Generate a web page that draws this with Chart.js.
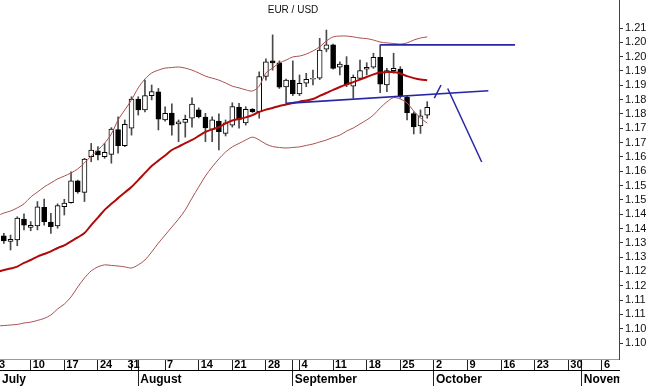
<!DOCTYPE html>
<html>
<head>
<meta charset="utf-8">
<script src="https://cdn.jsdelivr.net/npm/chart.js@4.4.1/dist/chart.umd.min.js"></script>
<style>
html,body{margin:0;padding:0;background:#fff;}
canvas{display:block;}
</style>
</head>
<body>
<canvas id="c" width="650" height="386"></canvas>
<script>
// ---------------- data (EUR/USD daily, 2017) ----------------
const chartTitle = 'EUR / USD';

// trading days; position on the x axis = index in this list (Jul 3 = 0)
const tradingDays = [
 'Jul 3','Jul 4','Jul 5','Jul 6','Jul 7','Jul 10','Jul 11','Jul 12','Jul 13','Jul 14',
 'Jul 17','Jul 18','Jul 19','Jul 20','Jul 21','Jul 24','Jul 25','Jul 26','Jul 27','Jul 28',
 'Jul 31','Aug 1','Aug 2','Aug 3','Aug 4','Aug 7','Aug 8','Aug 9','Aug 10','Aug 11',
 'Aug 14','Aug 15','Aug 16','Aug 17','Aug 18','Aug 21','Aug 22','Aug 23','Aug 24','Aug 25',
 'Aug 28','Aug 29','Aug 30','Aug 31','Sep 1','Sep 4','Sep 5','Sep 6','Sep 7','Sep 8',
 'Sep 11','Sep 12','Sep 13','Sep 14','Sep 15','Sep 18','Sep 19','Sep 20','Sep 21','Sep 22',
 'Sep 25','Sep 26','Sep 27','Sep 28','Sep 29'
];

const openP = [null,
 1.1374,1.1355,1.1360,1.1433,1.1404,1.1409,1.1474,1.1422,1.1409,1.1476,
 1.1490,1.1566,1.1526,1.1651,1.1671,1.1651,1.1659,1.1745,1.1689,1.1750,
 1.1852,1.1814,1.1864,1.1877,1.1779,1.1803,1.1765,1.1770,1.1785,1.1814,
 1.1789,1.1746,1.1775,1.1732,1.1761,1.1824,1.1769,1.1816,1.1808,1.1931,
 1.1985,1.1978,1.1894,1.1918,1.1870,1.1907,1.1921,1.1925,1.2026,1.2041,
 1.1963,1.1971,1.1897,1.1924,1.1956,1.1963,1.1998,1.1901,1.1951,1.1957,
 1.1858,1.1801,1.1758,1.1796];
const highP = [null,
 1.1383,1.1377,1.1441,1.1451,1.1424,1.1494,1.1503,1.1453,1.1486,1.1502,
 1.1598,1.1569,1.1645,1.1697,1.1686,1.1697,1.1752,1.1790,1.1779,1.1860,
 1.1860,1.1918,1.1901,1.1889,1.1825,1.1835,1.1779,1.1796,1.1856,1.1821,
 1.1802,1.1790,1.1800,1.1779,1.1839,1.1837,1.1825,1.1819,1.1947,1.1992,
 1.2076,1.1985,1.1922,1.1985,1.1936,1.1942,1.1953,1.2064,1.2093,1.2044,
 1.1982,1.2000,1.1936,1.1988,1.1979,1.2012,1.2041,1.1959,1.2012,1.1965,
 1.1863,1.1807,1.1814,1.1843];
const lowP = [null,
 1.1348,1.1325,1.1340,1.1395,1.1392,1.1395,1.1412,1.1383,1.1401,1.1447,
 1.1488,1.1523,1.1494,1.1633,1.1639,1.1645,1.1628,1.1663,1.1686,1.1726,
 1.1796,1.1807,1.1849,1.1744,1.1775,1.1726,1.1703,1.1719,1.1754,1.1786,
 1.1703,1.1703,1.1674,1.1723,1.1754,1.1750,1.1761,1.1805,1.1785,1.1918,
 1.1953,1.1889,1.1837,1.1864,1.1864,1.1895,1.1901,1.1920,1.2017,1.1956,
 1.1936,1.1895,1.1855,1.1921,1.1936,1.1959,1.1874,1.1878,1.1942,1.1855,
 1.1779,1.1730,1.1732,1.1785];
const closeP = [null,
 1.1357,1.1362,1.1436,1.1412,1.1411,1.1476,1.1424,1.1406,1.1480,1.1489,
 1.1566,1.1528,1.1642,1.1674,1.1657,1.1666,1.1747,1.1689,1.1764,1.1852,
 1.1814,1.1864,1.1878,1.1782,1.1802,1.1761,1.1772,1.1781,1.1834,1.1790,
 1.1751,1.1779,1.1738,1.1769,1.1826,1.1781,1.1816,1.1808,1.1930,1.1982,
 1.1978,1.1893,1.1918,1.1870,1.1907,1.1921,1.1924,1.2023,1.2041,1.1959,
 1.1974,1.1901,1.1928,1.1951,1.1963,1.1998,1.1904,1.1951,1.1959,1.1863,
 1.1804,1.1755,1.1793,1.1823];

// Bollinger bands, one value per trading day
const upperBand = [
 1.1444,1.1454,1.1461,1.1472,1.1486,1.1510,1.1527,1.1545,1.1559,1.1573,
 1.1583,1.1594,1.1608,1.1629,1.1653,1.1674,1.1698,1.1730,1.1779,1.1814,
 1.1849,1.1891,1.1922,1.1943,1.1953,1.1960,1.1962,1.1964,1.1960,1.1953,
 1.1943,1.1932,1.1925,1.1918,1.1908,1.1897,1.1891,1.1884,1.1880,1.1897,
 1.1943,1.1960,1.1978,1.1988,1.1999,1.2002,1.2009,1.2020,1.2034,1.2055,
 1.2069,1.2072,1.2072,1.2069,1.2065,1.2063,1.2058,1.2051,1.2048,1.2046,
 1.2044,1.2048,1.2058,1.2065,1.2069];
const midBand = [
 1.1248,1.1255,1.1260,1.1267,1.1280,1.1290,1.1302,1.1311,1.1320,1.1332,
 1.1341,1.1355,1.1369,1.1384,1.1412,1.1438,1.1465,1.1486,1.1506,1.1526,
 1.1545,1.1569,1.1594,1.1618,1.1637,1.1655,1.1674,1.1686,1.1698,1.1709,
 1.1723,1.1737,1.1746,1.1754,1.1767,1.1777,1.1782,1.1788,1.1796,1.1807,
 1.1815,1.1821,1.1828,1.1833,1.1838,1.1843,1.1847,1.1852,1.1863,1.1873,
 1.1884,1.1894,1.1903,1.1911,1.1920,1.1929,1.1938,1.1945,1.1946,1.1946,
 1.1941,1.1932,1.1925,1.1920,1.1918];
const lowerBand = [
 1.1060,1.1061,1.1063,1.1065,1.1070,1.1073,1.1079,1.1086,1.1098,1.1119,
 1.1136,1.1161,1.1196,1.1227,1.1252,1.1266,1.1273,1.1271,1.1269,1.1266,
 1.1262,1.1273,1.1290,1.1318,1.1349,1.1377,1.1405,1.1433,1.1465,1.1506,
 1.1545,1.1583,1.1615,1.1643,1.1667,1.1685,1.1697,1.1709,1.1719,1.1709,
 1.1695,1.1686,1.1683,1.1681,1.1683,1.1685,1.1690,1.1695,1.1702,1.1709,
 1.1718,1.1726,1.1740,1.1751,1.1765,1.1779,1.1796,1.1821,1.1842,1.1857,
 1.1852,1.1838,1.1810,1.1786,1.1768];

// hand-drawn trend lines: [startDay, endDay], [startPrice, endPrice]
const resistanceDays = [57, 77.07],  resistancePrices = [1.2041, 1.2041];
const supportDays    = [43, 73.1],   supportPrices    = [1.1837, 1.1881];
const tickUpDays     = [65.06, 66.06], tickUpPrices   = [1.1855, 1.1901];
const targetDays     = [67.05, 72.11], targetPrices   = [1.1889, 1.1632];

// axes
const xMin = 0.43, xMax = 92.54;
const yMin = 1.09443, yMax = 1.21978;
const weekTickDays   = [0,5,10,15,20,25,30,35,40,45,50,55,60,65,70,75,80,85,90];
const weekLabelAt    = [0,5,10,15,19.1,25,30,35,40,45,50,55,60,65,70,75,80,85,90];
const weekTickLabels = ['3','10','17','24','31','7','14','21','28','4','11','18','25','2','9','16','23','30','6'];
const monthTickDays   = [xMin, 21, 44, 65, 87];
const monthTickLabels = ['July','August','September','October','November'];
const yTickValues = [1.21,1.205,1.20,1.195,1.19,1.185,1.18,1.175,1.17,1.165,1.16,1.155,1.15,1.145,1.14,1.135,1.13,1.125,1.12,1.115,1.11,1.105,1.10];
const yTickLabels = ['1.21','1.20','1.20','1.19','1.19','1.18','1.18','1.17','1.17','1.16','1.16','1.15','1.15','1.14','1.14','1.13','1.13','1.12','1.12','1.11','1.11','1.10','1.10'];

// ---------------- build datasets ----------------
const wickData = [], bodyData = [], bodyColors = [];
tradingDays.forEach((d, i) => {
  if (openP[i] == null) return;
  wickData.push({x: i, y: [lowP[i], highP[i]]});
  bodyData.push({x: i, y: [Math.min(openP[i], closeP[i]), Math.max(openP[i], closeP[i])]});
  bodyColors.push(closeP[i] >= openP[i] ? '#ffffff' : '#000000');
});
const bandPts = arr => arr.map((v, i) => ({x: i, y: v}));
const segPts = (xs, ys) => xs.map((x, k) => ({x: x, y: ys[k]}));

function weekTicks() {
  const t = [];
  weekTickDays.forEach((d, k) => {
    const at = weekLabelAt[k];
    if (Math.abs(at - d) < 1e-9) t.push({value: d, lab: weekTickLabels[k], mark: true});
    else { t.push({value: d, lab: '', mark: true}); t.push({value: at, lab: weekTickLabels[k], mark: false}); }
  });
  monthTickDays.slice(1).forEach(d => { if (!weekTickDays.includes(d)) t.push({value: d, lab: '', mark: true}); });
  t.sort((a, b) => a.value - b.value);
  return t;
}
function monthTicks() {
  return monthTickDays.map((d, k) => ({value: d, lab: monthTickLabels[k], mark: k > 0}));
}

Chart.defaults.font.family = '"Liberation Sans", Arial, Helvetica, sans-serif';

const overlay = {
  id: 'overlay',
  afterDraw(chart) {
    const ctx = chart.ctx;
    ctx.save();
    // clip the month label at the plot's right edge like the original
    ctx.fillStyle = '#ffffff';
    ctx.fillRect(chart.chartArea.right + 0.5, chart.scales.xm.top + 1, 60, 40);
    ctx.fillStyle = '#111';
    ctx.font = '10px "Liberation Sans", Arial, sans-serif';
    ctx.textAlign = 'center';
    ctx.textBaseline = 'middle';
    ctx.fillText(chartTitle, 293, 10);
    ctx.restore();
  }
};

const markColor = c => (c.tick && c.tick.mark === false) ? 'rgba(0,0,0,0)' : '#222';

new Chart(document.getElementById('c'), {
  type: 'bar',
  data: {
    datasets: [
      {type: 'line', label: 'resistance', data: segPts(resistanceDays, resistancePrices), borderColor: '#2626a6', borderWidth: 1.7, pointRadius: 0, order: 0},
      {type: 'line', label: 'support', data: segPts(supportDays, supportPrices), borderColor: '#2626a6', borderWidth: 1.7, pointRadius: 0, order: 0},
      {type: 'line', label: 'tick', data: segPts(tickUpDays, tickUpPrices), borderColor: '#2626a6', borderWidth: 1.5, pointRadius: 0, order: 0},
      {type: 'line', label: 'target', data: segPts(targetDays, targetPrices), borderColor: '#2626a6', borderWidth: 1.5, pointRadius: 0, order: 0},
      {type: 'line', label: 'MA20', data: bandPts(midBand), borderColor: '#b00a0a', borderWidth: 2, pointRadius: 0, tension: 0.3, order: 1},
      {type: 'line', label: 'upper', data: bandPts(upperBand), borderColor: '#aa5050', borderWidth: 1, pointRadius: 0, tension: 0.3, order: 2},
      {type: 'line', label: 'lower', data: bandPts(lowerBand), borderColor: '#aa5050', borderWidth: 1, pointRadius: 0, tension: 0.3, order: 2},
      {type: 'bar', label: 'body', data: bodyData, backgroundColor: bodyColors, borderColor: '#000', borderWidth: 1, borderSkipped: false, barThickness: 5, grouped: false, order: 3},
      {type: 'bar', label: 'wick', data: wickData, backgroundColor: '#4a4a4a', borderWidth: 0, barThickness: 1, grouped: false, order: 4}
    ]
  },
  options: {
    responsive: false,
    animation: false,
    devicePixelRatio: 1,
    layout: {padding: 0},
    plugins: {legend: {display: false}, tooltip: {enabled: false}, title: {display: false}},
    scales: {
      x: {
        type: 'linear', position: 'bottom', min: xMin, max: xMax, offset: false, weight: 0,
        grid: {offset: false, drawOnChartArea: false, drawTicks: true, tickLength: 11, tickColor: markColor, tickWidth: 1},
        border: {display: true, color: '#9a9a9a', width: 1},
        afterBuildTicks: s => { s.ticks = weekTicks(); },
        afterFit: s => { s.height = 11; s.paddingLeft = 0; s.paddingRight = 0; },
        ticks: {
          autoSkip: false, maxRotation: 0, minRotation: 0, align: 'start', labelOffset: 2, padding: -10.5,
          color: '#000', font: {size: 11, weight: 'bold', lineHeight: 1},
          callback: (v, i, t) => t[i].lab
        }
      },
      xm: {
        type: 'linear', position: 'bottom', min: xMin, max: xMax, offset: false, weight: 1,
        grid: {offset: false, drawOnChartArea: false, drawTicks: true, tickLength: 16, tickColor: markColor, tickWidth: 1},
        border: {display: true, color: '#000', width: 1},
        afterBuildTicks: s => { s.ticks = monthTicks(); },
        afterFit: s => { s.height = 16; s.paddingLeft = 0; s.paddingRight = 0; },
        ticks: {
          autoSkip: false, maxRotation: 0, minRotation: 0, align: 'start', labelOffset: 2, padding: -12.5,
          color: '#000', font: {size: 12, weight: 'bold', lineHeight: 1},
          callback: (v, i, t) => t[i].lab
        }
      },
      y: {
        type: 'linear', position: 'right', min: yMin, max: yMax, beginAtZero: false,
        grid: {drawOnChartArea: false, drawTicks: true, tickLength: 4, tickColor: '#333'},
        border: {display: true, color: '#444', width: 1, dash: [1, 2]},
        afterBuildTicks: s => { s.ticks = yTickValues.map(v => ({value: v})); },
        afterFit: s => { s.width = 31; s.paddingTop = 0; s.paddingBottom = 0; },
        ticks: {
          autoSkip: false, padding: 2, color: '#111', font: {size: 11},
          callback: v => { const j = yTickValues.findIndex(u => Math.abs(u - v) < 1e-7); return j >= 0 ? yTickLabels[j] : ''; }
        }
      }
    }
  },
  plugins: [overlay]
});
</script>
</body>
</html>
